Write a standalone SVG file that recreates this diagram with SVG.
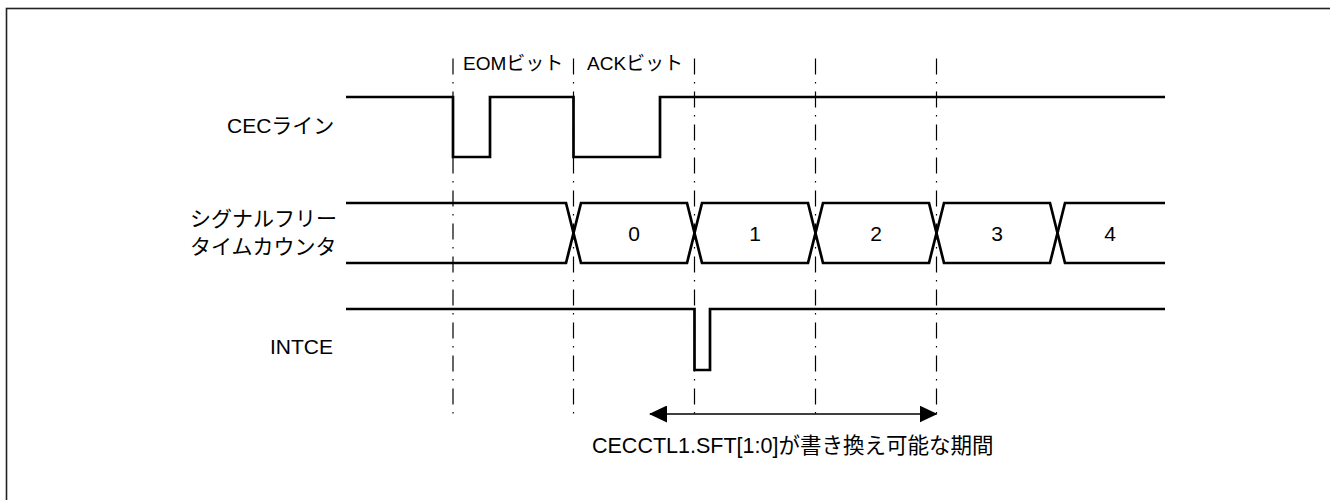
<svg xmlns="http://www.w3.org/2000/svg" width="1330" height="500" viewBox="0 0 1330 500">
<style>
text{font-family:"Liberation Sans","Noto Sans CJK JP",sans-serif;font-size:21px;fill:#000}
.bit{font-size:19px}
.wave{fill:none;stroke:#000;stroke-width:2.7;stroke-linejoin:miter}
.grid{fill:none;stroke:#000;stroke-width:1.2;stroke-dasharray:16 7.5 1.5 8}
.mid{text-anchor:middle;dominant-baseline:central}
</style>
<defs>
<marker id="ah" viewBox="0 0 18 17" refX="17" refY="8.5" markerWidth="18" markerHeight="17" markerUnits="userSpaceOnUse" orient="auto-start-reverse">
<path d="M0,0 L18,8.5 L0,17 Z" fill="#000"/>
</marker>
</defs>
<rect x="6.5" y="8.5" width="1400" height="600" fill="none" stroke="#222" stroke-width="1.6"/>
<g id="timing-grid">
<path class="grid" d="M453,58.5 V414"/>
<path class="grid" d="M573.5,58.5 V414"/>
<path class="grid" d="M694.5,58.5 V414"/>
<path class="grid" d="M815.5,58.5 V414"/>
<path class="grid" d="M936.5,58.5 V414"/>
</g>
<g id="bit-labels">
<text class="bit" x="463" y="70">EOMビット</text>
<text class="bit" x="587" y="70">ACKビット</text>
</g>
<g id="cec-line">
<text x="227" y="133">CECライン</text>
<path class="wave" d="M346,97 H453 V157 H490 V97 H573.5 V157 H660 V97 H1165"/>
</g>
<g id="signal-free-counter">
<text x="190" y="226">シグナルフリー</text>
<text x="190" y="254">タイムカウンタ</text>
<path class="wave" d="M346,203 H566 L573.5,233 L566,263 H346"/>
<path class="wave" d="M573.5,233 L581,203 H687 L694.5,233 L687,263 H581 Z"/>
<path class="wave" d="M694.5,233 L702,203 H808 L815.5,233 L808,263 H702 Z"/>
<path class="wave" d="M815.5,233 L823,203 H929 L936.5,233 L929,263 H823 Z"/>
<path class="wave" d="M936.5,233 L944,203 H1050 L1057.5,233 L1050,263 H944 Z"/>
<path class="wave" d="M1165,203 H1065 L1057.5,233 L1065,263 H1165"/>
<text class="mid" x="634" y="233">0</text>
<text class="mid" x="755" y="233">1</text>
<text class="mid" x="876" y="233">2</text>
<text class="mid" x="997" y="233">3</text>
<text class="mid" x="1110" y="233">4</text>
</g>
<g id="intce">
<text x="333" y="354" text-anchor="end">INTCE</text>
<path class="wave" d="M346,309 H694.5 V370 H710 V309 H1165"/>
</g>
<g id="connectors">
<path d="M650,414 H936.5" fill="none" stroke="#000" stroke-width="1.6" marker-start="url(#ah)" marker-end="url(#ah)"/>
</g>
<g id="period-label">
<text x="592" y="453" style="font-size:21.5px">CECCTL1.SFT[1:0]が書き換え可能な期間</text>
</g>
</svg>
